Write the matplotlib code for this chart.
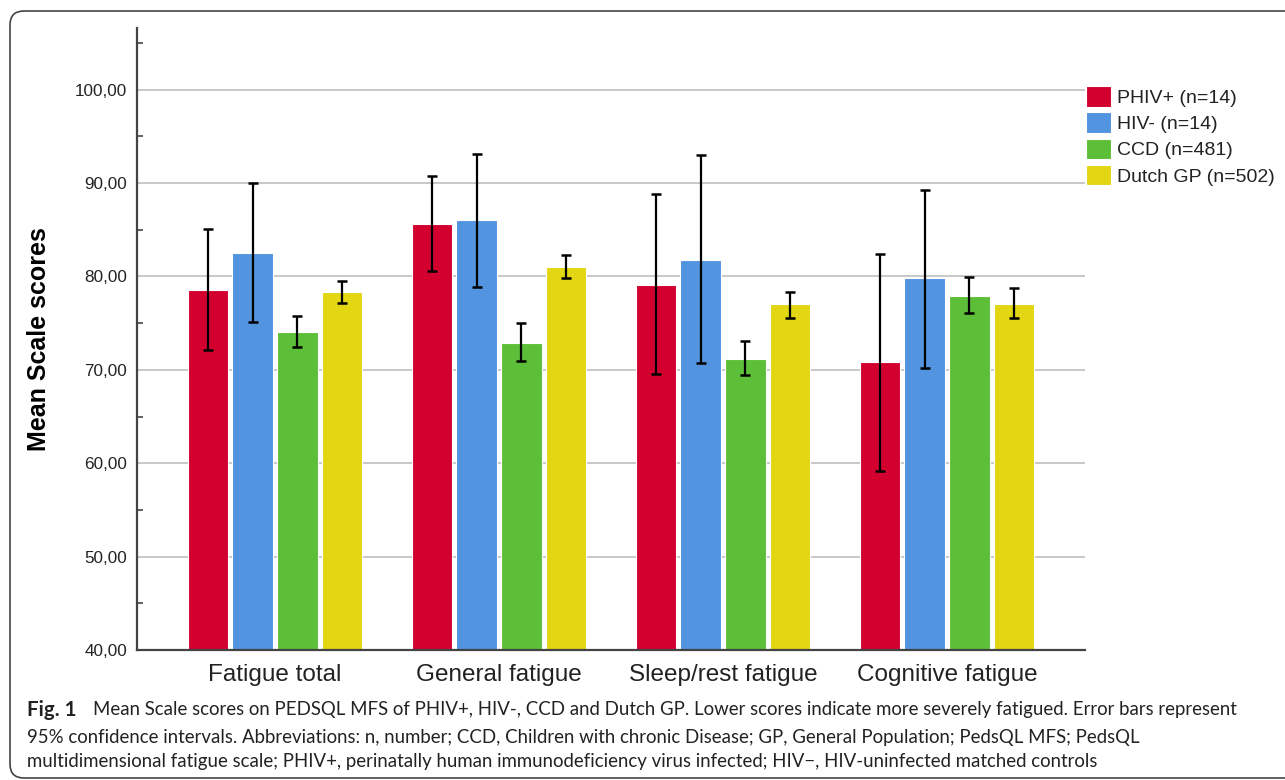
import numpy as np
import matplotlib.pyplot as plt
from matplotlib.patches import FancyBboxPatch

# Data
categories = ['Fatigue total', 'General fatigue', 'Sleep/rest fatigue', 'Cognitive fatigue']
groups = ['PHIV+ (n=14)', 'HIV- (n=14)', 'CCD (n=481)', 'Dutch GP (n=502)']
colors = ['#D3002F', '#5294DF', '#5DBE38', '#E3D613']

phiv_mean = [78.6, 85.6, 79.1, 70.8]
phiv_lo = [72.1, 80.6, 69.6, 59.2]
phiv_hi = [85.1, 90.8, 88.8, 82.4]

hivneg_mean = [82.5, 86.0, 81.8, 79.8]
hivneg_lo = [75.1, 78.9, 70.7, 70.2]
hivneg_hi = [90.0, 93.1, 93.0, 89.3]

ccd_mean = [74.0, 72.9, 71.2, 77.9]
ccd_lo = [72.4, 70.9, 69.4, 76.1]
ccd_hi = [75.8, 75.0, 73.1, 79.9]

gp_mean = [78.3, 81.0, 77.0, 77.1]
gp_lo = [77.2, 79.8, 75.6, 75.6]
gp_hi = [79.5, 82.3, 78.3, 78.8]

means = [phiv_mean, hivneg_mean, ccd_mean, gp_mean]
lows = [phiv_lo, hivneg_lo, ccd_lo, gp_lo]
highs = [phiv_hi, hivneg_hi, ccd_hi, gp_hi]

fig = plt.figure(figsize=(12.85, 7.8), dpi=100)
ax = fig.add_axes([137 / 1285, 130 / 780, (1085 - 137) / 1285, (650 - 28) / 780])

x = np.arange(len(categories))
pitch = 0.2
width = 0.18
for i in range(4):
    pos = x + (i - 1.5) * pitch
    m = np.array(means[i])
    lo = m - np.array(lows[i])
    hi = np.array(highs[i]) - m
    ax.bar(pos, m - 40, bottom=40, width=width, color=colors[i], edgecolor='white',
           linewidth=0.8, label=groups[i], zorder=2)
    ax.errorbar(pos, m, yerr=[lo, hi], fmt='none', ecolor='black', elinewidth=1.6,
                capsize=3.6, capthick=1.8, zorder=3)

ax.set_xlim(-0.616, 3.616)
ax.set_ylim(40, 106.6)
ax.set_yticks([40, 50, 60, 70, 80, 90, 100])
ax.set_yticklabels(['40,00', '50,00', '60,00', '70,00', '80,00', '90,00', '100,00'],
                   fontsize=12.3, color='#222222', family='Liberation Sans')
ax.set_yticks([45, 55, 65, 75, 85, 95, 105], minor=True)
ax.tick_params(axis='y', which='major', length=0, pad=7)
ax.tick_params(axis='y', which='minor', direction='in', length=4, width=1.2, color='#444444')
ax.set_xticks(x)
ax.set_xticklabels(categories, fontsize=17.5, color='#222222', family='Liberation Sans')
ax.tick_params(axis='x', length=0, pad=10)

ax.grid(axis='y', color='#C4C4C4', linewidth=1.3, zorder=0)
ax.set_axisbelow(True)
for s in ['top', 'right']:
    ax.spines[s].set_visible(False)
for s in ['left', 'bottom']:
    ax.spines[s].set_color('#444444')
    ax.spines[s].set_linewidth(1.6)

ax.set_ylabel('Mean Scale scores', fontsize=18, fontweight='bold', family='Liberation Sans', labelpad=17)

leg = ax.legend(loc='upper left', bbox_to_anchor=(1086 / 1285, 1 - 86 / 780),
                bbox_transform=fig.transFigure, frameon=False,
                prop={'family': 'Liberation Sans', 'size': 14},
                handlelength=1.3, handleheight=1.25, handletextpad=0.3,
                labelspacing=0.28, borderaxespad=0, borderpad=0)
for t in leg.get_texts():
    t.set_color('#222222')

# Rounded frame around the figure
frame = FancyBboxPatch((10, 2), 1400, 767, boxstyle='round,pad=0,rounding_size=14',
                       transform=None, facecolor='none', edgecolor='#444444', linewidth=1.2)
fig.patches.append(frame)

# Caption
cap_font = 'Lato'
cap_size = 13.45
fig.text(27 / 1285, 1 - 710 / 780, 'Fig. 1', fontsize=14.8, fontweight='bold',
         family=cap_font, va='center', color='#222222')
fig.text(93 / 1285, 1 - 710 / 780,
         'Mean Scale scores on PEDSQL MFS of PHIV+, HIV-, CCD and Dutch GP. Lower scores indicate more severely fatigued. Error bars represent',
         fontsize=cap_size, family=cap_font, va='center', color='#222222')
fig.text(27 / 1285, 1 - 737 / 780,
         '95% confidence intervals. Abbreviations: n, number; CCD, Children with chronic Disease; GP, General Population; PedsQL MFS; PedsQL',
         fontsize=cap_size, family=cap_font, va='center', color='#222222')
fig.text(27 / 1285, 1 - 762 / 780,
         'multidimensional fatigue scale; PHIV+, perinatally human immunodeficiency virus infected; HIV\u2212, HIV-uninfected matched controls',
         fontsize=cap_size, family=cap_font, va='center', color='#222222')

fig.savefig('out.png', dpi=100)
